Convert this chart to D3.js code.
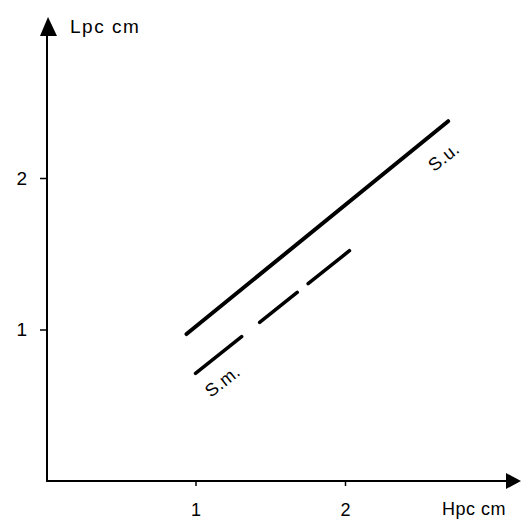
<!DOCTYPE html>
<html>
<head>
<meta charset="UTF-8">
<style>
  body { margin: 0; background: #fff; }
  svg { display: block; font-family: "Liberation Sans", Arial, sans-serif; }
</style>
<script src="https://d3js.org/d3.v7.min.js"></script>
</head>
<body>
<script>
// data (Hpc cm vs Lpc cm)
const xTicks = [1, 2];
const yTicks = [1, 2];
const suLine = [[0.94, 0.97], [2.69, 2.375]];   // S.u. solid
const smLine = [[1.0, 0.71], [2.03, 1.52]];     // S.m. dashed
const labels = [
  { text: "S.u.", x: 2.66, y: 2.14 },
  { text: "S.m.", x: 1.18, y: 0.66 }
];

const width = 521, height = 521;

const x = d3.scaleLinear().domain([0, 3]).range([46, 494.5]);
const y = d3.scaleLinear().domain([0, 3]).range([481, 26.5]);

const svg = d3.select("body").append("svg")
  .attr("width", width)
  .attr("height", height);

// axes lines with arrow heads
svg.append("line")
  .attr("x1", x(0) + 1).attr("y1", y(0))
  .attr("x2", x(0) + 1).attr("y2", 34)
  .attr("stroke", "#000").attr("stroke-width", 2);
svg.append("path")
  .attr("d", `M${x(0) + 2},17 L${x(0) - 6},36 L${x(0) + 11},36 Z`)
  .attr("fill", "#000");

svg.append("line")
  .attr("x1", x(0)).attr("y1", y(0))
  .attr("x2", 509).attr("y2", y(0))
  .attr("stroke", "#000").attr("stroke-width", 2);
svg.append("path")
  .attr("d", `M521,${y(0)} L506,${y(0) - 8} L506,${y(0) + 8} Z`)
  .attr("fill", "#000");

// ticks via d3 axes
const xAxis = svg.append("g")
  .attr("transform", `translate(0,${y(0)})`)
  .call(d3.axisBottom(x).tickValues(xTicks).tickFormat(d3.format("d"))
    .tickSize(5).tickSizeOuter(0).tickPadding(17));
xAxis.select(".domain").remove();
xAxis.selectAll("line").attr("stroke-width", 1.5);
xAxis.selectAll("text").attr("font-size", 18).attr("font-family", "Liberation Sans, Arial, sans-serif").attr("fill", "#000");

const yAxis = svg.append("g")
  .attr("transform", `translate(${x(0) + 1},0)`)
  .call(d3.axisLeft(y).tickValues(yTicks).tickFormat(d3.format("d"))
    .tickSize(7).tickSizeOuter(0).tickPadding(13));
yAxis.select(".domain").remove();
yAxis.selectAll("line").attr("stroke-width", 1.5);
yAxis.selectAll("text").attr("font-size", 19).attr("font-family", "Liberation Sans, Arial, sans-serif").attr("fill", "#000");

// axis titles
svg.append("text")
  .attr("x", 70).attr("y", 33)
  .attr("font-size", 19).attr("letter-spacing", 1.5)
  .text("Lpc cm");
svg.append("text")
  .attr("x", 442).attr("y", 515)
  .attr("font-size", 18).attr("letter-spacing", 0.5)
  .text("Hpc cm");

const line = d3.line().x(d => x(d[0])).y(d => y(d[1]));

svg.append("path")
  .attr("d", line(suLine))
  .attr("fill", "none")
  .attr("stroke", "#000")
  .attr("stroke-width", 4)
  .attr("stroke-linecap", "round");

svg.append("path")
  .attr("d", line(smLine))
  .attr("fill", "none")
  .attr("stroke", "#000")
  .attr("stroke-width", 3.5)
  .attr("stroke-linecap", "round")
  .attr("stroke-dasharray", "59 23 48 14 60");

// rotated line labels
const angle = -Math.atan2(y(smLine[0][1]) - y(smLine[1][1]), x(smLine[1][0]) - x(smLine[0][0])) * 180 / Math.PI;
svg.selectAll(".lbl")
  .data(labels)
  .enter().append("text")
  .attr("class", "lbl")
  .attr("text-anchor", "middle")
  .attr("font-size", 18)
  .attr("letter-spacing", 0.5)
  .attr("transform", d => `translate(${x(d.x)},${y(d.y)}) rotate(${angle})`)
  .attr("dy", "0.35em")
  .text(d => d.text);
</script>
</body>
</html>
